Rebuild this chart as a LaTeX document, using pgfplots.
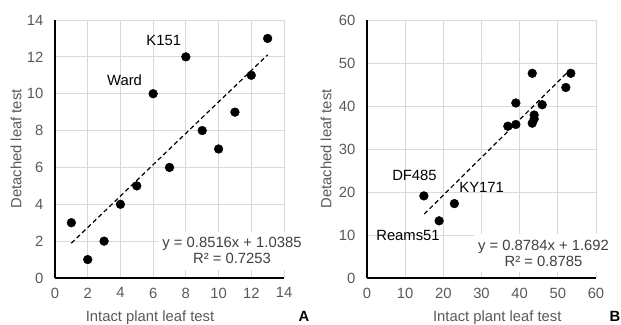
\documentclass[border=0pt]{standalone}
\usepackage{pgfplots}
\pgfplotsset{compat=1.18}
\usepackage{fontspec}
\setmainfont{Liberation Sans}
\definecolor{gridc}{HTML}{D9D9D9}
\definecolor{tickc}{HTML}{595959}
\definecolor{eqc}{HTML}{404040}
\newcommand{\ff}{\fontsize{14.8}{16}\selectfont}
\pgfplotsset{
 mystyle/.style={
  scale only axis, width=229pt, height=258pt,
  axis x line*=bottom, axis y line*=left,
  axis line style={black, line width=1.1pt, -},
  every outer x axis line/.append style={-},
  every outer y axis line/.append style={-},
  grid=major, major grid style={gridc, line width=0.9pt},
  major tick length=0pt,
  tick label style={font=\ff, text=tickc},
  /pgf/number format/assume math mode=true,
  xticklabel style={inner sep=0pt, anchor=north, yshift=-9.5pt},
  yticklabel style={inner sep=0pt, anchor=east, xshift=-11.5pt},
  label style={font=\ff, text=tickc},
  clip=false,
 },
 pts/.style={only marks, mark=*, mark size=4.4pt, black, mark options={fill=black, draw=black}},
 trend/.style={black, line width=1.2pt, dash pattern=on 4.5pt off 3pt, no marks},
}
\begin{document}
\begin{tikzpicture}
\useasboundingbox (0,0) rectangle (621pt,324pt);
% ---------- Panel A ----------
\begin{axis}[mystyle, at={(55pt,46pt)}, anchor=south west,
  xmin=0, xmax=14, ymin=0, ymax=14,
  xtick={0,2,...,14}, ytick={0,2,...,14},
  xlabel={Intact plant leaf test}, ylabel={Detached leaf test},
  xlabel style={at={(axis description cs:0.415,-0.1667)}, anchor=base},
  ylabel style={at={(axis description cs:-0.170,0.5)}, anchor=center},
]
\addplot[trend] coordinates {(1,1.8901) (13,12.1093)};
\addplot[pts] coordinates {
(1,3) (2,1) (3,2) (4,4) (5,5) (6,10) (7,6) (8,12) (9,8) (10,7) (11,9) (12,11) (13,13)};
\node[font=\ff, inner sep=0pt, anchor=center] at (axis cs:6.65,12.91) {K151};
\node[font=\ff, inner sep=0pt, anchor=center] at (axis cs:4.25,10.74) {Ward};
\node[fill=white, align=center, anchor=north, inner xsep=4pt, inner ysep=5.5pt, font=\ff, text=eqc]
  at (axis cs:10.82,2.50) {y = 0.8516x + 1.0385\\R² = 0.7253};
\node[font=\ff\bfseries, anchor=base, inner sep=0pt] at (axis description cs:1.087,-0.1667) {A};
\end{axis}
% ---------- Panel B ----------
\begin{axis}[mystyle, at={(367pt,46pt)}, anchor=south west,
  xmin=0, xmax=60, ymin=0, ymax=60,
  xtick={0,10,...,60}, ytick={0,10,...,60},
  xlabel={Intact plant leaf test}, ylabel={Detached leaf test},
  xlabel style={at={(axis description cs:0.569,-0.1667)}, anchor=base},
  ylabel style={at={(axis description cs:-0.179,0.5)}, anchor=center},
]
\addplot[trend] coordinates {(15,14.868) (53.3,48.51)};
\addplot[pts] coordinates {
(14.9,19.1) (18.9,13.3) (22.9,17.3) (36.9,35.3) (39.0,35.7) (39.0,40.7)
(43.3,36.0) (43.8,37.0) (43.8,37.9) (43.3,47.6) (45.9,40.3) (52.1,44.3) (53.4,47.6)};
\node[font=\ff, inner sep=0pt, anchor=center] at (axis cs:12.44,23.84) {DF485};
\node[font=\ff, inner sep=0pt, anchor=center] at (axis cs:30.05,21.13) {KY171};
\node[font=\ff, inner sep=0pt, anchor=center] at (axis cs:10.74,9.95) {Reams51};
\node[fill=white, align=center, anchor=north, inner xsep=4pt, inner ysep=5.5pt, font=\ff, text=eqc]
  at (axis cs:46.24,10.19) {y = 0.8784x + 1.692\\R² = 0.8785};
\node[font=\ff\bfseries, anchor=base, inner sep=0pt] at (axis description cs:1.083,-0.1667) {B};
\end{axis}
\end{tikzpicture}
\end{document}
